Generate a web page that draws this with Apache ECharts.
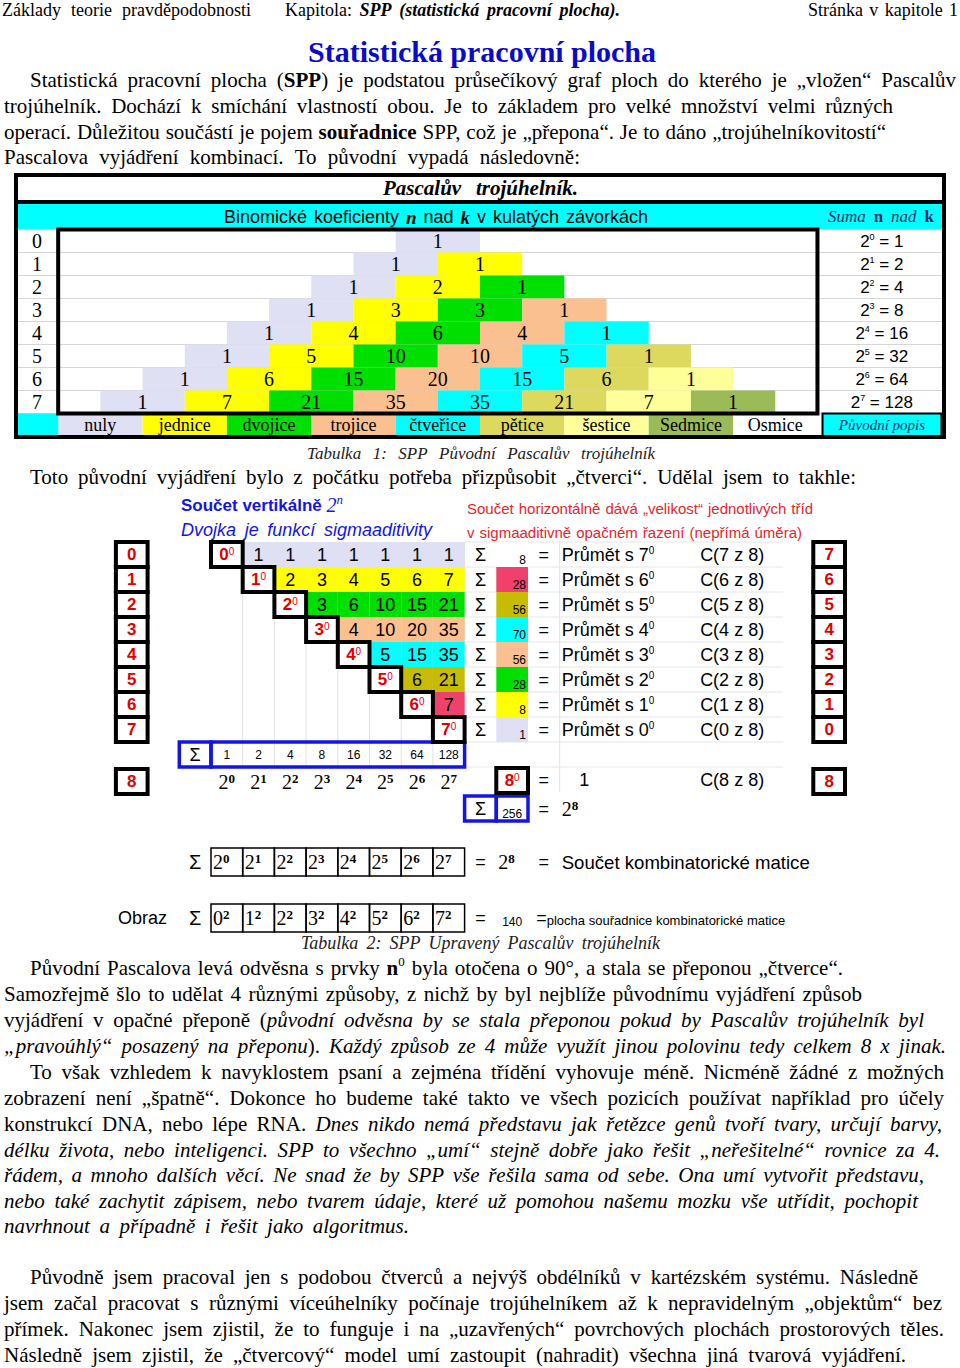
<!DOCTYPE html>
<html>
<head>
<meta charset="utf-8">
<script src="https://cdn.jsdelivr.net/npm/echarts@6/dist/echarts.min.js"></script>
<style>
  html, body { margin: 0; padding: 0; background: #fff; }
  #page { width: 960px; height: 1368px; }
</style>
</head>
<body>
<div id="page"></div>
<script>
// ---- data: table 1 (Pascal triangle) ----
const pascalRows = [
  [1], [1, 1], [1, 2, 1], [1, 3, 3, 1], [1, 4, 6, 4, 1],
  [1, 5, 10, 10, 5, 1], [1, 6, 15, 20, 15, 6, 1], [1, 7, 21, 35, 35, 21, 7, 1]
]
const rowNumbers = ['0', '1', '2', '3', '4', '5', '6', '7']
const rowTotals = [1, 2, 4, 8, 16, 32, 64, 128]
const classNames = ['nuly', 'jednice', 'dvojice', 'trojice', 'čtveřice', 'pětice', 'šestice', 'Sedmice', 'Osmice']

// ---- data: table 2 (adjusted triangle) ----
const matrixRows = [
  [1, 1, 1, 1, 1, 1, 1], [2, 3, 4, 5, 6, 7], [3, 6, 10, 15, 21],
  [4, 10, 20, 35], [5, 15, 35], [6, 21], [7]
]
const horizontalSums = [8, 28, 56, 70, 56, 28, 8, 1]
const verticalSums = [1, 2, 4, 8, 16, 32, 64, 128]
const projectionBase = [7, 6, 5, 4, 3, 2, 1, 0]
const powerExponents = [0, 1, 2, 3, 4, 5, 6, 7]
const squareBases = [0, 1, 2, 3, 4, 5, 6, 7]
const totalPower = 8
const totalSum = 256
const squareSum = 140

const SERIF = '"Liberation Serif", "Times New Roman", serif'
const SANS = '"Liberation Sans", Arial, sans-serif'
const serif = (sz, st = '') => `${st} ${sz}px ${SERIF}`.trim()
const sans = (sz, st = '') => `${st} ${sz}px ${SANS}`.trim()

const classColors = ['#E0E0F4', '#FFFF00', '#00E000', '#FAC090', '#00FFFF', '#DDD95E', '#FFFF99', '#9BBB59', '#FFFFFF']
const matrixColors = ['#E0E0F4', '#FFFF00', '#00E000', '#FAC090', '#00FFFF', '#C8BC00', '#F0406C', '#FFFFFF']
const RED = '#E00000'
const BLUE = '#1414E6'

// ---- text line layout (justified like the source page) ----
const measureCtx = document.createElement('canvas').getContext('2d')
const textWidth = (s, font) => { measureCtx.font = font; return measureCtx.measureText(s).width }

const layoutLine = (ln) => {
  const words = [[]]
  ln.segs.forEach(([font, txt, dy]) => {
    txt.split(' ').forEach((part, i) => {
      if (i > 0) words.push([])
      if (part) words[words.length - 1].push({ font, t: part, dy: dy || 0 })
    })
  })
  const list = words.filter(w => w.length)
  const wOf = w => w.reduce((s, p) => s + textWidth(p.t, p.font), 0)
  const total = list.reduce((s, w) => s + wOf(w), 0)
  const space = textWidth(' ', ln.segs[0][0])
  let gap = ln.right && list.length > 1 ? (ln.right - ln.x - total) / (list.length - 1) : space
  gap = Math.max(gap, space * 0.7)
  let cx = ln.x
  const out = []
  list.forEach(w => {
    w.forEach(p => {
      out.push({
        type: 'text', x: cx, y: ln.y + p.dy, silent: true, z: 50,
        style: { text: p.t, font: p.font, fill: ln.fill || '#000', align: 'left', verticalAlign: 'middle', textAlign: 'left', textVerticalAlign: 'middle' }
      })
      cx += textWidth(p.t, p.font)
    })
    cx += gap
  })
  return out
}

const R = serif(21), B = serif(21, 'bold'), I = serif(21, 'italic'), S12 = serif(13)

const pageLines = [
  { x: 2, y: 10, right: 251, segs: [[serif(18), 'Základy teorie pravděpodobnosti']] },
  { x: 285, y: 10, right: 620, segs: [[serif(18), 'Kapitola: '], [serif(18, 'italic bold'), 'SPP (statistická pracovní plocha).']] },
  { x: 808, y: 10, right: 958, segs: [[serif(18), 'Stránka v kapitole 1']] },
  { x: 308, y: 51, right: 656, fill: '#0A0ACC', segs: [[serif(30, 'bold'), 'Statistická pracovní plocha']] },
  { x: 30, y: 80, right: 956, segs: [[R, 'Statistická pracovní plocha ('], [B, 'SPP'], [R, ') je podstatou průsečíkový graf ploch do kterého je „vložen“ Pascalův']] },
  { x: 4, y: 106, right: 893, segs: [[R, 'trojúhelník. Dochází k smíchání vlastností obou. Je to základem pro velké množství velmi různých']] },
  { x: 4, y: 132, right: 886, segs: [[R, 'operací. Důležitou součástí je pojem '], [B, 'souřadnice'], [R, ' SPP, což je „přepona“. Je to dáno „trojúhelníkovitostí“']] },
  { x: 4, y: 157, right: 580, segs: [[R, 'Pascalova vyjádření kombinací. To původní vypadá následovně:']] },
  // table 1 header texts
  { x: 383, y: 188, right: 578, segs: [[serif(21, 'italic bold'), 'Pascalův trojúhelník.']] },
  { x: 224, y: 217, right: 648, segs: [[sans(18), 'Binomické koeficienty '], [serif(19, 'italic bold'), 'n'], [sans(18), ' nad '], [serif(19, 'italic bold'), 'k'], [sans(18), ' v kulatých závorkách']] },
  { x: 828, y: 216, right: 934, fill: '#1F2F5F', segs: [[serif(17, 'italic'), 'Suma '], [serif(17, 'bold'), 'n'], [serif(17, 'italic'), ' nad '], [serif(17, 'bold'), 'k']] },
  { x: 307, y: 453, right: 655, fill: '#222', segs: [[serif(17, 'italic'), 'Tabulka 1: SPP Původní Pascalův trojúhelník']] },
  { x: 30, y: 477, right: 856, segs: [[R, 'Toto původní vyjádření bylo z počátku potřeba přizpůsobit „čtverci“. Udělal jsem to takhle:']] },
  // table 2 header texts
  { x: 181, y: 505, fill: BLUE, segs: [[sans(17, 'bold'), 'Součet vertikálně '], [serif(20, 'italic'), '2'], [serif(13, 'italic'), 'n', -6]] },
  { x: 181, y: 530, right: 432, fill: BLUE, segs: [[sans(18, 'italic'), 'Dvojka je funkcí sigmaaditivity']] },
  { x: 467, y: 508, right: 813, fill: '#E3262D', segs: [[sans(15), 'Součet horizontálně dává „velikost“ jednotlivých tříd']] },
  { x: 467, y: 532, right: 802, fill: '#E3262D', segs: [[sans(15), 'v sigmaaditivně opačném řazení (nepřímá úměra)']] },
  { x: 301, y: 943, right: 660, fill: '#222', segs: [[serif(18, 'italic'), 'Tabulka 2: SPP Upravený Pascalův trojúhelník']] },
  // closing paragraphs
  { x: 30, y: 968, right: 843, segs: [[R, 'Původní Pascalova levá odvěsna s prvky '], [B, 'n'], [S12, '0', -7], [R, ' byla otočena o 90°, a stala se přeponou „čtverce“.']] },
  { x: 4, y: 994, right: 862, segs: [[R, 'Samozřejmě šlo to udělat 4 různými způsoby, z nichž by byl nejblíže původnímu vyjádření způsob']] },
  { x: 4, y: 1020, right: 924, segs: [[R, 'vyjádření v opačné přeponě ('], [I, 'původní odvěsna by se stala přeponou pokud by Pascalův trojúhelník byl']] },
  { x: 4, y: 1046, right: 946, segs: [[I, '„pravoúhlý“ posazený na přeponu'], [R, '). '], [I, 'Každý způsob ze 4 může využít jinou polovinu tedy celkem 8 x jinak.']] },
  { x: 30, y: 1072, right: 944, segs: [[R, 'To však vzhledem k navyklostem psaní a zejména třídění vyhovuje méně. Nicméně žádné z možných']] },
  { x: 4, y: 1098, right: 944, segs: [[R, 'zobrazení není „špatně“. Dokonce ho budeme také takto ve všech pozicích používat například pro účely']] },
  { x: 4, y: 1124, right: 942, segs: [[R, 'konstrukcí DNA, nebo lépe RNA. '], [I, 'Dnes nikdo nemá představu jak řetězce genů tvoří tvary, určují barvy,']] },
  { x: 4, y: 1150, right: 940, segs: [[I, 'délku života, nebo inteligenci. SPP to všechno „umí“ stejně dobře jako řešit „neřešitelné“ rovnice za 4.']] },
  { x: 4, y: 1175, right: 924, segs: [[I, 'řádem, a mnoho dalších věcí. Ne snad že by SPP vše řešila sama od sebe. Ona umí vytvořit představu,']] },
  { x: 4, y: 1201, right: 918, segs: [[I, 'nebo také zachytit zápisem, nebo tvarem údaje, které už pomohou našemu mozku vše utřídit, pochopit']] },
  { x: 4, y: 1226, right: 409, segs: [[I, 'navrhnout a případně i řešit jako algoritmus.']] },
  { x: 30, y: 1277, right: 918, segs: [[R, 'Původně jsem pracoval jen s podobou čtverců a nejvýš obdélníků v kartézském systému. Následně']] },
  { x: 4, y: 1303, right: 942, segs: [[R, 'jsem začal pracovat s různými víceúhelníky počínaje trojúhelníkem až k nepravidelným „objektům“ bez']] },
  { x: 4, y: 1329, right: 944, segs: [[R, 'přímek. Nakonec jsem zjistil, že to funguje i na „uzavřených“ povrchových plochách prostorových těles.']] },
  { x: 4, y: 1355, right: 906, segs: [[R, 'Následně jsem zjistil, že „čtvercový“ model umí zastoupit (nahradit) všechna jiná tvarová vyjádření.']] }
]

// ---- grid geometry ----
const G0 = { left: 16, top: 229.5, width: 928, height: 207 }   // x -1..21, 9 rows
const G1 = { left: 115.9, top: 542, width: 729.1, height: 275 } // x -3..20, 11 rows
const G2 = { left: 115.9, top: 848, width: 729.1, height: 84 }  // x -3..20, 3 rows
const px0 = v => G0.left + (v + 1) * G0.width / 22
const py0 = r => G0.top + r * G0.height / 9
const px1 = v => G1.left + (v + 3) * G1.width / 23
const py1 = r => G1.top + r * G1.height / 11

// ---- custom cell series ----
const cellSeries = (grid, cells, base) => ({
  type: 'custom', xAxisIndex: grid, yAxisIndex: grid, silent: true, animation: false, z: base.z || 2,
  encode: { x: 0, y: 1 },
  data: cells.map(c => [c.x, c.row]),
  renderItem: (params, api) => {
    const c = Object.assign({}, base, cells[params.dataIndex])
    const a = api.coord([c.x, c.row])
    const b = api.coord([c.x + (c.w || 1), c.row])
    const h = api.size([0, 1])[1]
    const top = a[1] - h / 2 + (c.shift || 0)
    const children = []
    if (c.fill || c.stroke) {
      children.push({
        type: 'rect', shape: { x: a[0], y: top, width: b[0] - a[0], height: h },
        style: { fill: c.fill || 'none', stroke: c.stroke || null, lineWidth: c.lw || 0 }
      })
    }
    if (c.text !== undefined && c.text !== '') {
      const align = c.align || 'center'
      const pad = c.pad === undefined ? 3 : c.pad
      const tx = align === 'left' ? a[0] + pad : align === 'right' ? b[0] - pad : (a[0] + b[0]) / 2
      const ty = c.va === 'bottom' ? top + h - 1 : top + h / 2 + (c.dy || 0)
      children.push({
        type: 'text',
        style: { text: c.text, x: tx, y: ty, font: c.font, fill: c.color || '#000', align, verticalAlign: c.va || 'middle', rich: c.rich || {} }
      })
    }
    return { type: 'group', children }
  }
})

const supSans = (sz, color) => ({ s: { font: sans(sz), fill: color || '#000', verticalAlign: 'top' } })
const supSerif = (sz) => ({ t: { font: serif(sz, 'bold'), fill: '#000', verticalAlign: 'top' } })

// table 1 cells
const t1Cells = []
pascalRows.forEach((vals, n) => vals.forEach((v, k) => {
  t1Cells.push({ x: 8 - n + 2 * k, row: n, w: 2, text: String(v), fill: classColors[k] })
}))
classNames.forEach((name, k) => t1Cells.push({ x: 2 * k, row: 8, w: 2, text: name, fill: classColors[k], font: serif(18) }))
t1Cells.push({ x: -1, row: 8, w: 1, fill: '#00FFFF' })
const t1Side = []
rowNumbers.forEach((lab, n) => t1Side.push({ x: -1, row: n, w: 1, text: lab }))
rowTotals.forEach((v, n) => t1Side.push({ x: 18.05, row: n, w: 2.95, text: `2{s|${n}} = ${v}`, font: sans(17), rich: supSans(9) }))
t1Side.push({ x: 18.12, row: 8, w: 2.82, fill: '#00FFFF', stroke: '#000', lw: 2, text: 'Původní popis', font: serif(15, 'italic'), color: '#1F2F5F' })

// table 2 cells
const t2Cells = []
matrixRows.forEach((vals, i) => vals.forEach((v, k) => {
  t2Cells.push({ x: i + 1 + k, row: i, text: String(v), fill: matrixColors[i] })
}))
horizontalSums.forEach((v, i) => t2Cells.push({ x: 9, row: i, text: String(v), fill: matrixColors[7 - i], font: sans(12), align: 'right', va: 'bottom', pad: 2 }))

const t2Diag = []
rowNumbers.forEach((lab, i) => t2Diag.push({ x: i, row: i, text: `${lab}{s|0}` }))
t2Diag.push({ x: 9, row: 9, text: `${totalPower}{s|0}`, shift: 1 })

const t2Boxes = []
rowNumbers.forEach((lab, i) => t2Boxes.push({ x: -3, row: i, text: lab }))
projectionBase.forEach((b, i) => t2Boxes.push({ x: 19, row: i, text: String(b) }))
t2Boxes.push({ x: -3, row: 9, text: String(totalPower), shift: 2 })
t2Boxes.push({ x: 19, row: 9, text: String(totalPower), shift: 2 })

const t2Blue = [
  { x: -1, row: 8, text: 'Σ', font: sans(18) },
  { x: 0, row: 8, w: 8 },
  { x: 8, row: 10, text: 'Σ', font: sans(18), shift: 4 },
  { x: 9, row: 10, text: String(totalSum), font: sans(12), va: 'bottom', shift: 4 }
]

const t2Text = []
rowNumbers.forEach((lab, i) => {
  t2Text.push({ x: 8, row: i, text: 'Σ' })
  t2Text.push({ x: 10, row: i, text: '=' })
  t2Text.push({ x: 11, row: i, align: 'left', pad: 2, text: `Průmět s ${projectionBase[i]}{s|0}`, rich: supSans(10) })
  t2Text.push({ x: 15.43, row: i, align: 'left', pad: 0, text: `C(${projectionBase[i]} z ${totalPower})` })
})
verticalSums.forEach((v, j) => t2Text.push({ x: j, row: 8, text: String(v), font: sans(12) }))
powerExponents.forEach((e, j) => t2Text.push({ x: j, row: 9, text: `2{t|${e}}`, font: serif(20), rich: supSerif(13), dy: 2 }))
t2Text.push({ x: 10, row: 9, text: '=' })
t2Text.push({ x: 11.62, row: 9, align: 'left', pad: 0, text: '1' })
t2Text.push({ x: 15.43, row: 9, align: 'left', pad: 0, text: `C(${totalPower} z ${totalPower})` })
t2Text.push({ x: 10, row: 10, text: '=', shift: 4 })
t2Text.push({ x: 11, row: 10, align: 'left', pad: 2, text: `2{t|${totalPower}}`, font: serif(20), rich: supSerif(13), shift: 4 })

// bottom rows (grid 2)
const t3Boxes = []
powerExponents.forEach((e, j) => t3Boxes.push({ x: j, row: 0, text: `2{t|${e}}` }))
squareBases.forEach((b, j) => t3Boxes.push({ x: j, row: 2, text: `${b}{t|2}` }))
const t3Text = [
  { x: -1, row: 0, text: 'Σ', font: sans(20) },
  { x: 8, row: 0, text: '=' },
  { x: 9, row: 0, align: 'left', pad: 2, text: `2{t|${totalPower}}`, font: serif(20), rich: supSerif(13) },
  { x: 10, row: 0, text: '=' },
  { x: 11, row: 0, align: 'left', pad: 2, text: 'Součet kombinatorické matice', font: sans(18.6) },
  { x: -3, row: 2, align: 'left', pad: 2, text: 'Obraz' },
  { x: -1, row: 2, text: 'Σ', font: sans(20) },
  { x: 8, row: 2, text: '=' },
  { x: 9, row: 2, text: String(squareSum), font: sans(12), dy: 4 },
  { x: 10.26, row: 2, align: 'left', pad: 0, text: '{e|=}{p|plocha souřadnice kombinatorické matice}',
    rich: { e: { font: sans(18), fill: '#000', verticalAlign: 'bottom' }, p: { font: sans(13), fill: '#000', verticalAlign: 'bottom' } } }
]

// ---- decorations (borders / faint lines) ----
const line = (x1, y1, x2, y2, stroke, lw, z) => ({ type: 'line', silent: true, z: z || 0, shape: { x1, y1, x2, y2 }, style: { stroke, lineWidth: lw } })
const rect = (x, y, w, h, style, z) => ({ type: 'rect', silent: true, z: z || 0, shape: { x, y, width: w, height: h }, style })

const deco = [
  rect(16, 203, 928, 26.5, { fill: '#00FFFF' }, 0),
  rect(16, 175, 928, 262, { fill: 'none', stroke: '#000', lineWidth: 4 }, 100),
  line(16, 202, 944, 202, '#000', 4, 100),
  rect(px0(0), py0(0), px0(18) - px0(0), py0(8) - py0(0), { fill: 'none', stroke: '#000', lineWidth: 4 }, 100)
]
for (let v = 1; v <= 8; v++) deco.push(line(px1(v), py1(0), px1(v), py1(9), '#e2e2e2', 1, 0))
deco.push(line(px1(11), py1(0), px1(11), py1(10), '#e2e2e2', 1, 0))
for (let r = 0; r <= 9; r++) deco.push(line(px1(8), py1(r), 783, py1(r), '#e6e6e6', 1, 0))

const graphics = deco.concat(...pageLines.map(layoutLine))

const chart = echarts.init(document.getElementById('page'), null, { renderer: 'svg' })
chart.setOption({
  animation: false,
  backgroundColor: '#fff',
  grid: [
    Object.assign({ containLabel: false }, G0),
    Object.assign({ containLabel: false }, G1),
    Object.assign({ containLabel: false }, G2)
  ],
  xAxis: [
    { gridIndex: 0, type: 'value', min: -1, max: 21, show: false },
    { gridIndex: 1, type: 'value', min: -3, max: 20, show: false },
    { gridIndex: 2, type: 'value', min: -3, max: 20, show: false }
  ],
  yAxis: [
    {
      gridIndex: 0, type: 'category', inverse: true, data: rowNumbers.concat(['legend']),
      axisLine: { show: false }, axisTick: { show: false }, axisLabel: { show: false },
      splitLine: { show: true, interval: 0, lineStyle: { color: '#d6d6d6', width: 1 } }
    },
    { gridIndex: 1, type: 'category', inverse: true, data: ['0', '1', '2', '3', '4', '5', '6', '7', 'sum', 'eight', 'total'], show: false },
    { gridIndex: 2, type: 'category', inverse: true, data: ['powers', 'gap', 'squares'], show: false }
  ],
  graphic: { elements: graphics },
  series: [
    cellSeries(0, t1Cells, { font: serif(20) }),
    cellSeries(0, t1Side, { font: serif(20) }),
    cellSeries(1, t2Cells, { font: sans(18) }),
    cellSeries(1, t2Text, { font: sans(18), rich: supSans(10) }),
    cellSeries(1, t2Blue, { stroke: BLUE, lw: 3.5, z: 3 }),
    cellSeries(1, t2Boxes, { fill: '#fff', stroke: '#000', lw: 4, font: sans(17, 'bold'), color: RED, z: 3 }),
    cellSeries(1, t2Diag, { fill: '#fff', stroke: '#000', lw: 4, font: sans(17, 'bold'), color: RED, rich: supSans(10, RED), z: 4 }),
    cellSeries(2, t3Boxes, { stroke: '#000', lw: 1.5, font: serif(20), align: 'left', pad: 2, rich: supSerif(13) }),
    cellSeries(2, t3Text, { font: sans(18) })
  ]
})
</script>
</body>
</html>
